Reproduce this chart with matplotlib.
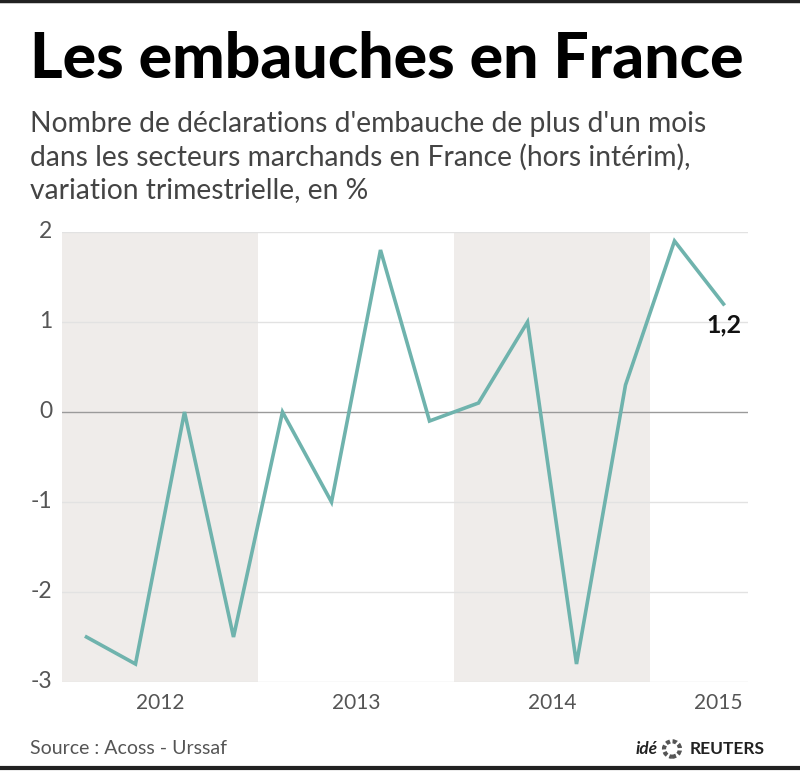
import matplotlib
matplotlib.use("Agg")
import matplotlib.pyplot as plt
from matplotlib.lines import Line2D
from matplotlib.patches import Circle

quarters = ["2012T1", "2012T2", "2012T3", "2012T4",
            "2013T1", "2013T2", "2013T3", "2013T4",
            "2014T1", "2014T2", "2014T3", "2014T4",
            "2015T1", "2015T2"]
values = [-2.5, -2.8, 0.0, -2.5, 0.0, -1.0, 1.8, -0.1, 0.1, 1.0, -2.8, 0.3, 1.9, 1.2]
year_labels = ["2012", "2013", "2014", "2015"]
year_label_pos = [2, 6, 10, 13.4]
shaded_years = [(0, 4), (8, 12)]
yticks = [-3, -2, -1, 0, 1, 2]

W, H = 800, 771
fig = plt.figure(figsize=(W / 100, H / 100), dpi=100)
fig.patch.set_facecolor("white")

L, R, T, B = 62, 748, 232, 682
ax = fig.add_axes([L / W, 1 - B / H, (R - L) / W, (B - T) / H])
ax.set_xlim(0, 14)
ax.set_ylim(-3, 2)
for s in ax.spines.values():
    s.set_visible(False)
ax.set_xticks([])
ax.set_yticks([])

for a, b in shaded_years:
    ax.axvspan(a, b, color="#efecea", zorder=0, lw=0)
for y in yticks:
    if y == 0:
        ax.axhline(y, color="#9a9a9a", lw=1.0, zorder=1)
    else:
        ax.axhline(y, color="#e2e2e2", lw=1.0, zorder=1)
    ax.text(-0.2, y, str(y), ha="right", va="center", fontsize=16.5,
            color="#555555", family="Lato")

xs = [i + 0.5 for i in range(len(values))]
ax.plot(xs, values, color="#6fb3ad", lw=2.6, zorder=3, solid_joinstyle="miter")
ax.text(xs[-1] - 0.35, values[-1] - 0.1, "1,2", ha="left", va="top",
        fontsize=18, fontweight="bold", color="#111111", family="Lato")

for lab, p in zip(year_labels, year_label_pos):
    ax.text(p, -3.23, lab, ha="center", va="center", fontsize=15,
            color="#555555", family="Lato")

fig.text(30 / W, 1 - 59 / H, "Les embauches en France", fontsize=45,
         fontweight="black", family="Lato", color="black", va="center", ha="left")
sub = ["Nombre de déclarations d'embauche de plus d'un mois",
       "dans les secteurs marchands en France (hors intérim),",
       "variation trimestrielle, en %"]
for i, s in enumerate(sub):
    fig.text(30 / W, 1 - (124 + 33 * i) / H, s, fontsize=20.3, family="Lato",
             color="#444444", va="center", ha="left")

fig.text(30 / W, 1 - 749 / H, "Source : Acoss - Urssaf", fontsize=14,
         family="Lato", color="#555555", va="center", ha="left")
fig.text(765 / W, 1 - 749 / H, "REUTERS", fontsize=12.5, fontweight="bold",
         family="Lato", color="#222222", va="center", ha="right")
fig.text(658 / W, 1 - 749 / H, "idé", fontsize=12.5, fontweight="bold",
         style="italic", family="Lato", color="#222222", va="center", ha="right")
fig.add_artist(Circle((672 / W, 1 - 749 / H), 8 / W, transform=fig.transFigure,
                      facecolor="none", edgecolor="#555555", lw=3,
                      linestyle=(0, (1, 0.6))))

fig.add_artist(Line2D([0, 1], [1 - 1 / H, 1 - 1 / H], color="#222222", lw=2.5,
                      transform=fig.transFigure))
fig.add_artist(Line2D([0, 1], [1 - 768 / H, 1 - 768 / H], color="#222222", lw=3,
                      transform=fig.transFigure))

fig.savefig("out.png", dpi=100)
